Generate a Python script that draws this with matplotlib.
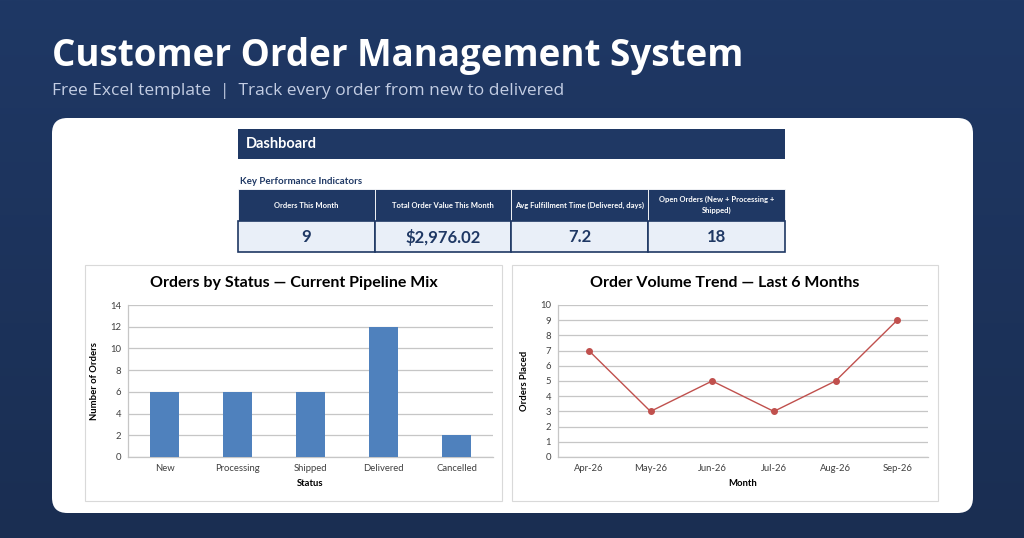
import matplotlib.pyplot as plt
from matplotlib.patches import FancyBboxPatch, Rectangle
from matplotlib.colors import LinearSegmentedColormap
import numpy as np

# data
statuses = ["New", "Processing", "Shipped", "Delivered", "Cancelled"]
status_counts = [6, 6, 6, 12, 2]
months = ["Apr-26", "May-26", "Jun-26", "Jul-26", "Aug-26", "Sep-26"]
orders_placed = [7, 3, 5, 3, 5, 9]
kpi_labels = ["Orders This Month", "Total Order Value This Month",
              "Avg Fulfillment Time (Delivered, days)", "Open Orders (New + Processing +\nShipped)"]
kpi_values = ["9", "$2,976.02", "7.2", "18"]

W, H = 1024, 538
NAVY = "#1f3864"
BAR = "#4f81bd"
LINE = "#c0504d"
GRID = "#c6c6c6"
SANS = ["Lato", "DejaVu Sans"]
HEAD = ["Open Sans", "DejaVu Sans"]


def fx(x):
    return x / W


def fy(y):
    return 1 - y / H


def box(x0, y0, x1, y1):
    # pixel box (top-left origin) -> fig rect
    return [fx(x0), fy(y1), fx(x1) - fx(x0), fy(y0) - fy(y1)]


fig = plt.figure(figsize=(W / 100, H / 100), dpi=100)

# gradient background
bg = fig.add_axes([0, 0, 1, 1])
bg.set_zorder(-10)
grad = np.linspace(0, 1, 256).reshape(-1, 1)
cmap = LinearSegmentedColormap.from_list("bg", ["#1f3865", "#1a2e52"])
bg.imshow(grad, aspect="auto", cmap=cmap, extent=[0, 1, 0, 1])
bg.set_xlim(0, 1)
bg.set_ylim(0, 1)
bg.axis("off")

fig.text(fx(52), fy(56), "Customer Order Management System", color="white",
         fontsize=26.5, fontweight="bold", family=HEAD, va="center", ha="left")
fig.text(fx(52), fy(91), "Free Excel template  |  Track every order from new to delivered",
         color="#c3cde3", fontsize=12.5, family=HEAD, va="center", ha="left")

# white panel
panel = FancyBboxPatch((fx(52), fy(513)), fx(973) - fx(52), fy(118) - fy(513),
                       boxstyle="round,pad=0,rounding_size=0.015",
                       transform=fig.transFigure, facecolor="white", edgecolor="none",
                       mutation_aspect=W / H, zorder=-5)
fig.patches.append(panel)

# dashboard header
fig.patches.append(Rectangle((fx(238), fy(159)), fx(785) - fx(238), fy(129) - fy(159),
                             transform=fig.transFigure, facecolor=NAVY, edgecolor="none"))
fig.text(fx(246), fy(144), "Dashboard", color="white", fontsize=10.5, fontweight="bold",
         family=SANS, va="center")
fig.text(fx(240), fy(182), "Key Performance Indicators", color=NAVY, fontsize=7,
         fontweight="bold", family=SANS, va="center")

# KPI table
cols = [238, 374.5, 511, 648, 785]
for i in range(4):
    x0, x1 = cols[i], cols[i + 1]
    fig.patches.append(Rectangle((fx(x0), fy(221)), fx(x1) - fx(x0), fy(189) - fy(221),
                                 transform=fig.transFigure, facecolor=NAVY,
                                 edgecolor="white", linewidth=0.6))
    fig.patches.append(Rectangle((fx(x0), fy(252)), fx(x1) - fx(x0), fy(221) - fy(252),
                                 transform=fig.transFigure, facecolor="#e9eff8",
                                 edgecolor=NAVY, linewidth=1.2))
    fig.text(fx((x0 + x1) / 2), fy(205), kpi_labels[i], color="white", fontsize=5.5,
             fontweight="bold", family=SANS, ha="center", va="center", linespacing=1.6)
    fig.text(fx((x0 + x1) / 2), fy(237), kpi_values[i], color=NAVY, fontsize=12,
             fontweight="bold", family=SANS, ha="center", va="center")

# chart frames
for x0, x1 in [(85, 502), (512, 938)]:
    fig.patches.append(Rectangle((fx(x0), fy(501)), fx(x1) - fx(x0), fy(265) - fy(501),
                                 transform=fig.transFigure, facecolor="white",
                                 edgecolor="#d9d9d9", linewidth=0.8, zorder=-1))


def style(ax):
    ax.set_zorder(5)
    ax.patch.set_alpha(0)
    for s in ["top", "right"]:
        ax.spines[s].set_visible(False)
    for s in ["bottom", "left"]:
        ax.spines[s].set_color(GRID)
        ax.spines[s].set_linewidth(0.9)
    ax.grid(axis="y", color=GRID, linewidth=0.9)
    ax.set_axisbelow(True)
    ax.tick_params(length=0, labelsize=6.8, pad=5)
    for lab in ax.get_xticklabels() + ax.get_yticklabels():
        lab.set_family(SANS)
        lab.set_color("#404040")


# bar chart
ax1 = fig.add_axes(box(128, 305, 493, 457))
ax1.bar(statuses, status_counts, width=0.39, color=BAR, zorder=3)
ax1.set_ylim(0, 14)
ax1.set_yticks(range(0, 15, 2))
ax1.set_xlim(-0.5, 4.5)
style(ax1)
ax1.set_xlabel("Status", fontsize=6.8, fontweight="bold", family=SANS, labelpad=4)
ax1.set_ylabel("Number of Orders", fontsize=6.8, fontweight="bold", family=SANS, labelpad=8)
fig.text(fx(294), fy(283), "Orders by Status \u2014 Current Pipeline Mix", fontsize=11.5,
         fontweight="bold", family=SANS, ha="center", va="center", color="black")

# line chart
ax2 = fig.add_axes(box(558, 305, 928, 457))
ax2.plot(months, orders_placed, color=LINE, marker="o", markersize=4, linewidth=1.0, zorder=3)
ax2.set_ylim(0, 10)
ax2.set_yticks(range(0, 11))
ax2.set_xlim(-0.5, 5.5)
style(ax2)
ax2.set_xlabel("Month", fontsize=6.8, fontweight="bold", family=SANS, labelpad=4)
ax2.set_ylabel("Orders Placed", fontsize=6.8, fontweight="bold", family=SANS, labelpad=8)
fig.text(fx(725), fy(283), "Order Volume Trend \u2014 Last 6 Months", fontsize=11.5,
         fontweight="bold", family=SANS, ha="center", va="center", color="black")

fig.savefig("out.png", dpi=100)
